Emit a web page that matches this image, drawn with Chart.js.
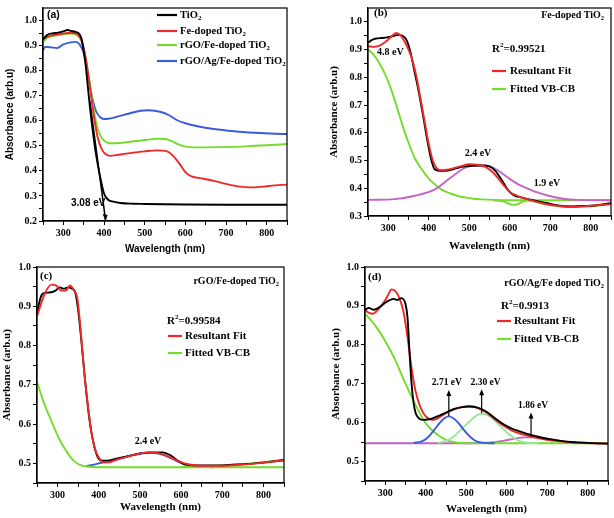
<!DOCTYPE html>
<html><head><meta charset="utf-8">
<script src="https://cdn.jsdelivr.net/npm/chart.js@4.4.0/dist/chart.umd.min.js"></script>
<style>
html,body{margin:0;padding:0;background:#fff;}
#wrap{position:relative;width:614px;height:518px;}
.p{position:absolute;width:307px;height:259px;}
canvas{display:block;}
</style></head><body>
<div id="wrap">
<div class="p" style="left:0;top:0"><canvas id="ca" width="307" height="259" style="width:307px;height:259px"></canvas></div>
<div class="p" style="left:307px;top:0"><canvas id="cb" width="307" height="259" style="width:307px;height:259px"></canvas></div>
<div class="p" style="left:0;top:259px"><canvas id="cc" width="307" height="259" style="width:307px;height:259px"></canvas></div>
<div class="p" style="left:307px;top:259px"><canvas id="cd" width="307" height="259" style="width:307px;height:259px"></canvas></div>
</div>
<script>
// ---------- tick labels ----------
const wlMajor = [300,400,500,600,700,800];
const wlMinor = [250,350,450,550,650,750,850];
const a_yMajor = [0.2,0.3,0.4,0.5,0.6,0.7,0.8,0.9,1.0];
const a_yMinor = [0.25,0.35,0.45,0.55,0.65,0.75,0.85,0.95];
const b_yMajor = [0.3,0.4,0.5,0.6,0.7,0.8,0.9,1.0];
const b_yMinor = [0.35,0.45,0.55,0.65,0.75,0.85,0.95];
const cd_yMajor = [0.5,0.6,0.7,0.8,0.9,1.0];
const cd_yMinor = [0.45,0.55,0.65,0.75,0.85,0.95];

// ---------- panel (a) ----------
const a_tio2_wl  = [250,260,270,280,290,300,310,320,330,340,345,350,355,360,365,370,380,390,400,410,420,440,470,500,600,700,850];
const a_tio2_abs = [0.925,0.942,0.948,0.95,0.953,0.957,0.962,0.958,0.955,0.945,0.925,0.88,0.82,0.74,0.66,0.59,0.47,0.38,0.31,0.285,0.278,0.272,0.269,0.268,0.266,0.265,0.265];
const a_fe_wl  = [250,260,270,290,310,325,335,345,355,365,375,385,395,405,415,430,460,500,530,555,570,585,600,615,640,670,700,730,760,790,820,850];
const a_fe_abs = [0.925,0.935,0.94,0.945,0.95,0.95,0.945,0.92,0.85,0.74,0.62,0.53,0.485,0.465,0.46,0.463,0.47,0.478,0.482,0.478,0.46,0.43,0.395,0.378,0.37,0.36,0.348,0.338,0.334,0.337,0.342,0.345];
const a_rgo_wl  = [250,260,280,300,320,335,345,355,365,375,385,395,405,415,430,460,500,530,550,565,580,600,630,680,750,800,850];
const a_rgo_abs = [0.915,0.93,0.94,0.945,0.948,0.94,0.915,0.85,0.75,0.64,0.565,0.53,0.515,0.51,0.51,0.515,0.523,0.528,0.527,0.52,0.508,0.497,0.494,0.495,0.498,0.502,0.507];
const a_ag_wl  = [250,255,270,285,300,315,330,340,350,360,370,380,390,400,410,430,460,490,510,540,560,580,600,630,670,720,770,820,850];
const a_ag_abs = [0.88,0.895,0.893,0.89,0.905,0.912,0.915,0.905,0.87,0.79,0.7,0.64,0.615,0.607,0.608,0.615,0.628,0.64,0.642,0.635,0.622,0.602,0.59,0.578,0.567,0.558,0.552,0.548,0.547];
const a_tangent_wl  = [365,404];
const a_tangent_abs = [0.68,0.2];

// ---------- panel (b) ----------
const b_data_wl  = [250,260,270,285,300,315,325,335,345,355,365,375,385,395,405,415,430,450,470,490,510,530,550,565,580,595,610,630,660,690,720,750,780,810,850];
const b_data_abs = [0.925,0.935,0.94,0.942,0.945,0.95,0.953,0.95,0.935,0.89,0.82,0.75,0.67,0.585,0.51,0.468,0.463,0.465,0.473,0.479,0.481,0.482,0.479,0.462,0.43,0.395,0.375,0.366,0.356,0.347,0.338,0.334,0.336,0.338,0.346];
const b_fit_wl  = [250,265,280,295,310,320,330,340,350,360,370,380,390,400,410,420,432,450,480,500,520,540,560,580,600,620,650,680,720,760,800,850];
const b_fit_abs = [0.912,0.91,0.915,0.93,0.95,0.96,0.952,0.93,0.9,0.86,0.8,0.72,0.64,0.56,0.5,0.472,0.465,0.468,0.48,0.487,0.485,0.477,0.455,0.42,0.387,0.372,0.358,0.346,0.336,0.333,0.337,0.343];
const b_vbcb_wl  = [250,270,291,310,324,340,350,365,381,400,415,430,448,470,489,510,530,560,600,700,850];
const b_vbcb_abs = [0.902,0.87,0.815,0.745,0.68,0.605,0.565,0.51,0.472,0.435,0.414,0.397,0.384,0.373,0.367,0.362,0.36,0.358,0.357,0.357,0.357];
const b_res_wl  = [560,585,600,610,620,632,645,665,700,740,780,820,850];
const b_res_abs = [0.357,0.352,0.343,0.34,0.343,0.352,0.356,0.35,0.34,0.334,0.334,0.338,0.344];
const b_g24_wl  = [250,316,366,415,453,490,520,545,570,597,620,646,670,696,728,770,850];
const b_g24_abs = [0.358,0.361,0.373,0.396,0.437,0.474,0.483,0.481,0.465,0.437,0.415,0.398,0.384,0.373,0.363,0.358,0.357];

// ---------- panel (c) ----------
const c_data_wl  = [250,258,265,280,295,305,315,325,335,343,350,358,366,374,382,390,398,408,420,440,470,500,530,555,575,595,610,630,660,700,750,800,850];
const c_data_abs = [0.88,0.92,0.933,0.935,0.94,0.948,0.945,0.948,0.945,0.935,0.89,0.81,0.72,0.64,0.58,0.54,0.515,0.507,0.507,0.511,0.518,0.525,0.528,0.528,0.52,0.505,0.497,0.495,0.495,0.495,0.498,0.502,0.508];
const c_fit_wl  = [250,268,285,298,308,320,330,340,348,356,365,374,382,390,400,412,425,440,470,500,520,545,570,595,620,650,700,750,800,850];
const c_fit_abs = [0.875,0.93,0.955,0.952,0.94,0.94,0.953,0.94,0.92,0.84,0.73,0.645,0.58,0.54,0.515,0.503,0.503,0.508,0.517,0.525,0.528,0.526,0.517,0.505,0.497,0.494,0.494,0.497,0.502,0.508];
const c_vbcb_wl  = [250,260,270,280,292,304,316,329,341,353,370,400,850];
const c_vbcb_abs = [0.708,0.675,0.645,0.62,0.59,0.562,0.54,0.519,0.505,0.497,0.492,0.49,0.49];
const c_tail_wl  = [600,640,680,720,760,800,850];
const c_tail_abs = [0.49,0.492,0.494,0.496,0.499,0.503,0.51];
const c_g24_wl  = [370,385,400,430,460,490,520,545,570,595,620,650,680];
const c_g24_abs = [0.493,0.496,0.5,0.507,0.515,0.523,0.527,0.525,0.516,0.503,0.496,0.492,0.49];

// ---------- panel (d) ----------
const d_data_wl  = [250,260,270,280,290,300,310,320,330,340,350,355,360,365,370,375,382,392,405,420,435,450,470,490,510,530,550,570,590,610,630,650,680,710,750,800,850];
const d_data_abs = [0.89,0.895,0.89,0.893,0.9,0.908,0.914,0.918,0.915,0.92,0.905,0.87,0.78,0.7,0.65,0.625,0.612,0.607,0.608,0.612,0.619,0.626,0.635,0.64,0.642,0.638,0.628,0.612,0.597,0.586,0.578,0.571,0.563,0.557,0.551,0.548,0.546];
const d_fit_wl  = [250,260,270,280,290,300,308,315,325,335,345,355,365,375,385,395,405,415,425,440,460,480,500,520,540,560,580,600,620,650,680,720,780,850];
const d_fit_abs = [0.89,0.882,0.88,0.888,0.9,0.915,0.93,0.942,0.938,0.92,0.885,0.82,0.74,0.68,0.645,0.623,0.612,0.607,0.609,0.618,0.63,0.638,0.641,0.64,0.632,0.618,0.601,0.587,0.576,0.567,0.56,0.553,0.548,0.546];
const d_vbcb_wl  = [250,275,300,325,350,375,400,425,450,475,500,850];
const d_vbcb_abs = [0.88,0.85,0.81,0.76,0.70,0.645,0.598,0.572,0.556,0.549,0.547,0.547];
const d_g271_wl  = [370,390,405,420,435,447,457,467,480,495,510,525,545,570];
const d_g271_abs = [0.548,0.552,0.562,0.58,0.6,0.612,0.616,0.612,0.6,0.58,0.563,0.552,0.548,0.547];
const d_g230_wl  = [430,450,470,490,510,525,538,552,570,590,610,630,655,680];
const d_g230_abs = [0.548,0.553,0.565,0.585,0.605,0.618,0.623,0.619,0.605,0.585,0.566,0.553,0.548,0.547];
const d_g186_wl  = [250,520,560,590,620,645,665,690,720,760,800,850];
const d_g186_abs = [0.547,0.547,0.549,0.553,0.559,0.562,0.562,0.56,0.555,0.55,0.548,0.547];
const d_arrow_wl   = [457,538,660];
const d_arrow_from = [0.617,0.625,0.564];
const d_arrow_to   = [0.684,0.686,0.626];
const d_arrow_lbl  = ['2.71 eV','2.30 eV','1.86 eV'];

// ---------- styling ----------
const SERIF = "'Liberation Serif','Times New Roman',serif";
const SANS = "'Liberation Sans',Arial,sans-serif";
const C_BLACK='#000000', C_RED='#f02828', C_GREEN='#74dc2a', C_BLUE='#3a5cdc', C_MAG='#c462c8', C_LGREEN='#98e89a';
const d_lblShift = [-2, 4, 2];

function pts(wl, v){ return wl.map((x,i)=>({x:x, y:v[i]})); }
function ds(wl, v, color, opt){ return Object.assign({data:pts(wl,v), borderColor:color, borderWidth:1.9, pointRadius:0, fill:false, tension:0.4, cubicInterpolationMode:'monotone'}, opt||{}); }

function rich(ctx, x, y, parts, size, family, align, color){
  ctx.save(); ctx.fillStyle = color||'#000'; ctx.textBaseline='middle';
  const fonts = parts.map(p=>'bold '+(p[1]? size*0.65 : size)+'px '+family);
  let w=0; const ws = parts.map((p,i)=>{ ctx.font=fonts[i]; const m=ctx.measureText(p[0]).width; w+=m; return m; });
  let cx = align==='right'? x-w : align==='center'? x-w/2 : x;
  parts.forEach((p,i)=>{ ctx.font=fonts[i]; const dy = p[1]===1? size*0.32 : p[1]===2? -size*0.35 : 0; ctx.fillText(p[0], cx, y+dy); cx+=ws[i]; });
  ctx.restore();
}
function legLine(ctx, x1, x2, y, color){ ctx.save(); ctx.strokeStyle=color; ctx.lineWidth=2.2; ctx.beginPath(); ctx.moveTo(x1,y); ctx.lineTo(x2,y); ctx.stroke(); ctx.restore(); }
function arrowUp(ctx, x, y1, y2){
  ctx.save(); ctx.strokeStyle='#000'; ctx.fillStyle='#000'; ctx.lineWidth=1.2;
  ctx.beginPath(); ctx.moveTo(x,y1); ctx.lineTo(x,y2+3); ctx.stroke();
  ctx.beginPath(); ctx.moveTo(x,y2); ctx.lineTo(x-2.5,y2+6); ctx.lineTo(x+2.5,y2+6); ctx.closePath(); ctx.fill();
  ctx.restore();
}

const framePlugin = { id:'frame', afterDatasetsDraw(chart){ const {ctx, chartArea:a}=chart; ctx.save(); ctx.strokeStyle='#000'; ctx.lineWidth=1.2; ctx.strokeRect(a.left,a.top,a.right-a.left,a.bottom-a.top); ctx.restore(); } };

function isMajor(v, arr){ return arr.some(m=>Math.abs(m-v)<1e-6); }

function make(id, p){
  const tickFont = {family:SERIF, size:10, weight:'bold'};
  return new Chart(document.getElementById(id), {
    type:'line',
    data:{datasets:p.datasets},
    options:{
      responsive:false, animation:false, devicePixelRatio:1, events:[],
      layout:{padding:{left:0,right:p.R,top:p.T,bottom:0}},
      plugins:{legend:{display:false}, tooltip:{enabled:false}},
      scales:{
        x:{type:'linear', min:250, max:850,
          afterBuildTicks:s=>{ s.ticks = wlMajor.concat(wlMinor).sort((a,b)=>a-b).map(v=>({value:v})); },
          afterFit:s=>{ s.height=p.H; },
          ticks:{autoSkip:false, maxRotation:0, color:'#000', font:tickFont, padding:2, callback:v=> isMajor(v,wlMajor)? String(v):''},
          grid:{drawOnChartArea:false, drawTicks:true, tickLength:4, color:'#000'},
          border:{color:'#000', width:1.2},
          title:{display:true, text:'Wavelength (nm)', color:'#000', font:{family:p.titleFamily, size:p.titleSize, weight:'bold'}, padding:{top:0,bottom:p.xtp}}
        },
        y:{type:'linear', min:p.yMin, max:p.yMax,
          afterBuildTicks:s=>{ s.ticks = p.yMajor.concat(p.yMinor).sort((a,b)=>a-b).map(v=>({value:v})); },
          afterFit:s=>{ s.width=p.W; },
          ticks:{autoSkip:false, color:'#000', font:tickFont, padding:2, callback:v=> isMajor(v,p.yMajor)? v.toFixed(1):''},
          grid:{drawOnChartArea:false, drawTicks:true, tickLength:4, color:'#000'},
          border:{color:'#000', width:1.2},
          title:{display:true, text:'Absorbance (arb.u)', color:'#000', font:{family:p.titleFamily, size:p.titleSize, weight:'bold'}, padding:{top:p.ytp,bottom:0}}
        }
      }
    },
    plugins:[framePlugin, {id:'annot', afterDraw(chart){ p.annot(chart.ctx, chart); }}]
  });
}

// (a)
make('ca', {
  W:43, R:20, T:4, H:38, xtp:4, ytp:4, titleFamily:SANS, titleSize:10,
  yMin:0.2, yMax:1.05, yMajor:a_yMajor, yMinor:a_yMinor,
  datasets:[
    ds(a_tio2_wl, a_tio2_abs, C_BLACK),
    ds(a_tangent_wl, a_tangent_abs, C_BLACK, {tension:0, borderWidth:1.5}),
    ds(a_fe_wl, a_fe_abs, C_RED),
    ds(a_rgo_wl, a_rgo_abs, C_GREEN),
    ds(a_ag_wl, a_ag_abs, C_BLUE)
  ],
  annot:(ctx, ch)=>{
    const xs=ch.scales.x, ys=ch.scales.y;
    const ax=xs.getPixelForValue(a_tangent_wl[1]), ay=ys.getPixelForValue(a_tangent_abs[1]);
    ctx.save(); ctx.fillStyle='#000'; ctx.beginPath(); ctx.moveTo(ax,ay); ctx.lineTo(ax-3,ay-7); ctx.lineTo(ax+2,ay-6); ctx.closePath(); ctx.fill(); ctx.restore();
    rich(ctx, 47, 15, [['(a)',0]], 10.5, SANS, 'left');
    rich(ctx, 71, 203, [['3.08 eV',0]], 10, SANS, 'left');
    const rows=[[15,C_BLACK,[['TiO',0],['2',1]]],[31,C_RED,[['Fe-doped TiO',0],['2',1]]],[45,C_GREEN,[['rGO/Fe-doped TiO',0],['2',1]]],[61,C_BLUE,[['rGO/Ag/Fe-doped TiO',0],['2',1]]]];
    rows.forEach(r=>{ legLine(ctx,157,177,r[0],r[1]); rich(ctx,180,r[0],r[2],10.5,SERIF,'left'); });
  }
});

// (b)
make('cb', {
  W:61, R:3, T:3, H:43, xtp:6, ytp:21, titleFamily:SERIF, titleSize:11,
  yMin:0.3, yMax:1.05, yMajor:b_yMajor, yMinor:b_yMinor,
  datasets:[
    ds(b_fit_wl, b_fit_abs, C_RED),
    ds(b_data_wl, b_data_abs, C_BLACK),
    ds(b_g24_wl, b_g24_abs, C_MAG),
    ds(b_vbcb_wl, b_vbcb_abs, C_GREEN),
    ds(b_res_wl, b_res_abs, C_GREEN)
  ],
  annot:(ctx, ch)=>{
    rich(ctx, 67, 13, [['(b)',0]], 11, SERIF, 'left');
    rich(ctx, 297, 15, [['Fe-doped TiO',0],['2',1]], 10, SERIF, 'right');
    rich(ctx, 70, 52, [['4.8 eV',0]], 10, SERIF, 'left');
    rich(ctx, 185, 49, [['R',0],['2',2],['=0.99521',0]], 11, SERIF, 'left');
    legLine(ctx,185,199,71,C_RED); rich(ctx,203,71,[['Resultant Fit',0]],11,SERIF,'left');
    legLine(ctx,185,199,89,C_GREEN); rich(ctx,203,89,[['Fitted VB-CB',0]],11,SERIF,'left');
    rich(ctx, 171, 153, [['2.4 eV',0]], 10, SERIF, 'center');
    rich(ctx, 240, 183, [['1.9 eV',0]], 10, SERIF, 'center');
  }
});

// (c)
make('cc', {
  W:37, R:23, T:7, H:35, xtp:4, ytp:1, titleFamily:SERIF, titleSize:11,
  yMin:0.45, yMax:1.0, yMajor:cd_yMajor, yMinor:cd_yMinor,
  datasets:[
    ds(c_fit_wl, c_fit_abs, C_RED, {tension:0}),
    ds(c_data_wl, c_data_abs, C_BLACK),
    ds(c_vbcb_wl, c_vbcb_abs, C_GREEN),
    ds(c_g24_wl, c_g24_abs, C_BLUE),
    ds(c_tail_wl, c_tail_abs, C_GREEN)
  ],
  annot:(ctx, ch)=>{
    rich(ctx, 40, 17, [['(c)',0]], 11, SERIF, 'left');
    rich(ctx, 279, 22, [['rGO/Fe-doped TiO',0],['2',1]], 10, SERIF, 'right');
    rich(ctx, 167, 62, [['R',0],['2',2],['=0.99584',0]], 11, SERIF, 'left');
    legLine(ctx,168,182,77,C_RED); rich(ctx,185,77,[['Resultant Fit',0]],11,SERIF,'left');
    legLine(ctx,168,182,94,C_GREEN); rich(ctx,185,94,[['Fitted VB-CB',0]],11,SERIF,'left');
    rich(ctx, 148, 182, [['2.4 eV',0]], 10, SERIF, 'center');
  }
});

// (d)
make('cd', {
  W:58, R:6, T:7, H:37, xtp:2, ytp:23, titleFamily:SERIF, titleSize:11,
  yMin:0.45, yMax:1.0, yMajor:cd_yMajor, yMinor:cd_yMinor,
  datasets:[
    ds(d_data_wl, d_data_abs, C_BLACK),
    ds(d_fit_wl, d_fit_abs, C_RED),
    ds(d_g271_wl, d_g271_abs, C_BLUE),
    ds(d_g230_wl, d_g230_abs, C_LGREEN),
    ds(d_vbcb_wl, d_vbcb_abs, C_GREEN),
    ds(d_g186_wl, d_g186_abs, C_MAG)
  ],
  annot:(ctx, ch)=>{
    const xs=ch.scales.x, ys=ch.scales.y;
    rich(ctx, 61, 18, [['(d)',0]], 11, SERIF, 'left');
    rich(ctx, 297, 24, [['rGO/Ag/Fe doped TiO',0],['2',1]], 10, SERIF, 'right');
    rich(ctx, 194, 47, [['R',0],['2',2],['=0.9913',0]], 11, SERIF, 'left');
    legLine(ctx,190,204,62,C_RED); rich(ctx,207,62,[['Resultant Fit',0]],11,SERIF,'left');
    legLine(ctx,190,204,80,C_GREEN); rich(ctx,207,80,[['Fitted VB-CB',0]],11,SERIF,'left');
    d_arrow_wl.forEach((w,i)=>{
      const x=xs.getPixelForValue(w), y1=ys.getPixelForValue(d_arrow_from[i]), y2=ys.getPixelForValue(d_arrow_to[i]);
      arrowUp(ctx, x, y1, y2);
      rich(ctx, x + d_lblShift[i], y2-7, [[d_arrow_lbl[i],0]], 9.5, SERIF, 'center');
    });
  }
});
</script>
</body></html>
